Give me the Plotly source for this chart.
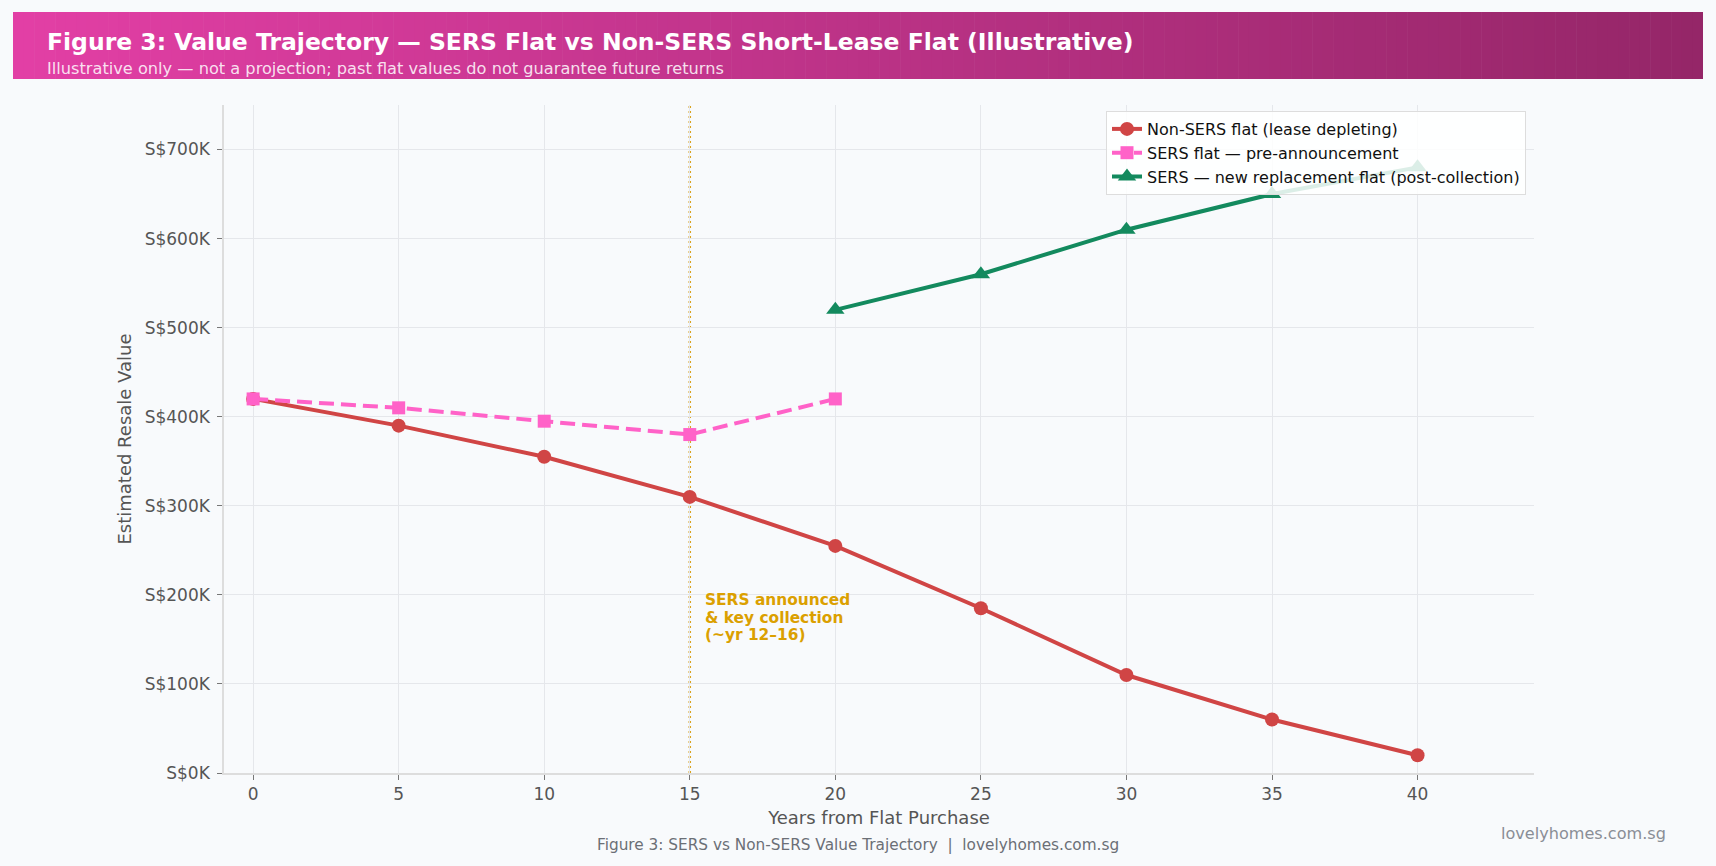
import plotly.graph_objects as go

# ---- data ----
years = [0, 5, 10, 15, 20, 25, 30, 35, 40]
non_sers = [420000, 390000, 355000, 310000, 255000, 185000, 110000, 60000, 20000]
sers_pre_years = [0, 5, 10, 15, 20]
sers_pre = [420000, 410000, 395000, 380000, 420000]
sers_new_years = [20, 25, 30, 35, 40]
sers_new = [520000, 560000, 610000, 650000, 680000]
y_tick_vals = [0, 100000, 200000, 300000, 400000, 500000, 600000, 700000]
y_tick_text = ["S$0K", "S$100K", "S$200K", "S$300K", "S$400K", "S$500K", "S$600K", "S$700K"]
x_tick_vals = [0, 5, 10, 15, 20, 25, 30, 35, 40]
announce_year = 15
announce_lines = ["SERS announced", "&amp; key collection", "(~yr 12–16)"]

W, H = 1716, 866
L, R, T, B = 224, 1534, 105, 773
PW, PH = R - L, B - T


def px(x):
    return (x - L) / PW


def py(y):
    return (B - y) / PH


FONT = "DejaVu Sans"
RED = "#d04545"
PINK = "#ff62c8"
GREEN = "#138a5e"

fig = go.Figure()
fig.add_trace(go.Scatter(
    x=years, y=non_sers, mode="lines+markers", name="Non-SERS flat (lease depleting)",
    line=dict(color=RED, width=4), marker=dict(symbol="circle", size=14, color=RED)))
fig.add_trace(go.Scatter(
    x=sers_pre_years, y=sers_pre, mode="lines+markers", name="SERS flat — pre-announcement",
    line=dict(color=PINK, width=4, dash="15px,7px"), marker=dict(symbol="square", size=13, color=PINK)))
fig.add_trace(go.Scatter(
    x=sers_new_years, y=sers_new, mode="lines+markers", name="SERS — new replacement flat (post-collection)",
    line=dict(color=GREEN, width=4), marker=dict(symbol="triangle-up", size=16, color=GREEN)))

shapes = []
# vertical announcement line
shapes.append(dict(type="line", xref="x", yref="paper", x0=announce_year, x1=announce_year, y0=0, y1=1,
                   line=dict(color="#d9a21c", width=2.5, dash="2px,3px"), layer="below"))
# gradient header banner
n = 160
c0 = (0xe2, 0x3f, 0xa5)
c1 = (0x95, 0x26, 0x68)
bx0, bx1, by0, by1 = 13, 1703, 12, 79
for i in range(n):
    t = i / (n - 1)
    c = tuple(int(round(a + (b - a) * t)) for a, b in zip(c0, c1))
    xa = bx0 + (bx1 - bx0) * i / n
    xb = bx0 + (bx1 - bx0) * (i + 1) / n + 0.6
    shapes.append(dict(type="rect", xref="paper", yref="paper", x0=px(xa), x1=px(min(xb, bx1)),
                       y0=py(by1), y1=py(by0), line=dict(width=0),
                       fillcolor="rgb(%d,%d,%d)" % c, layer="above"))

annotations = [
    dict(xref="paper", yref="paper", x=px(45), y=py(42), xanchor="left", yanchor="middle",
         text="<b>Figure 3: Value Trajectory — SERS Flat vs Non-SERS Short-Lease Flat (Illustrative)</b>",
         showarrow=False, font=dict(family=FONT, size=23.5, color="white")),
    dict(xref="paper", yref="paper", x=px(45), y=py(69), xanchor="left", yanchor="middle",
         text="Illustrative only — not a projection; past flat values do not guarantee future returns",
         showarrow=False, font=dict(family=FONT, size=16.2, color="rgba(255,255,255,0.85)")),
    dict(xref="paper", yref="paper", x=px(858), y=py(845), xanchor="center", yanchor="middle",
         text="Figure 3: SERS vs Non-SERS Value Trajectory  |  lovelyhomes.com.sg",
         showarrow=False, font=dict(family=FONT, size=15.3, color="#6b6f76")),
    dict(xref="paper", yref="paper", x=px(1668), y=py(833), xanchor="right", yanchor="middle",
         text="lovelyhomes.com.sg",
         showarrow=False, font=dict(family=FONT, size=16.1, color="#8a8e96")),
]
line_y = [600, 617.5, 635]
for txt, yy in zip(announce_lines, line_y):
    annotations.append(dict(xref="x", yref="paper", x=15.45, y=py(yy), xanchor="left", yanchor="middle",
                            align="left", text="<b>%s</b>" % txt, showarrow=False,
                            font=dict(family=FONT, size=15.4, color="#dba000")))

fig.update_layout(
    width=W, height=H,
    margin=dict(l=L, r=W - R, t=T, b=H - B, autoexpand=False),
    paper_bgcolor="#f8fafc", plot_bgcolor="#f8fafc",
    font=dict(family=FONT, color="#555555"),
    shapes=shapes, annotations=annotations,
    showlegend=True,
    legend=dict(x=px(1526), y=py(111), xanchor="right", yanchor="top",
                bgcolor="rgba(255,255,255,0.85)", bordercolor="#dddddd", borderwidth=1,
                font=dict(family=FONT, size=16, color="#111111"), tracegroupgap=0,
                itemwidth=30),
    xaxis=dict(range=[-1, 44], tickvals=x_tick_vals, showgrid=True, gridcolor="#e5e7eb", gridwidth=1,
               zeroline=False, showline=True, linecolor="#dddddd", linewidth=1.5,
               ticks="outside", ticklen=5, tickcolor="#777777", tickwidth=1,
               tickfont=dict(family=FONT, size=17, color="#555555"),
               title=dict(text="Years from Flat Purchase", font=dict(family=FONT, size=18, color="#555555"),
                          standoff=8)),
    yaxis=dict(range=[0, 750000], tickvals=y_tick_vals, ticktext=y_tick_text, showgrid=True,
               gridcolor="#e5e7eb", gridwidth=1, zeroline=False, showline=True, linecolor="#dddddd",
               linewidth=1.5, ticks="outside", ticklen=5, tickcolor="#777777", tickwidth=1,
               ticklabelstandoff=4,
               tickfont=dict(family=FONT, size=17, color="#555555"),
               title=dict(text="Estimated Resale Value", font=dict(family=FONT, size=18, color="#555555"),
                          standoff=8)),
)

fig.write_html("out.html")
